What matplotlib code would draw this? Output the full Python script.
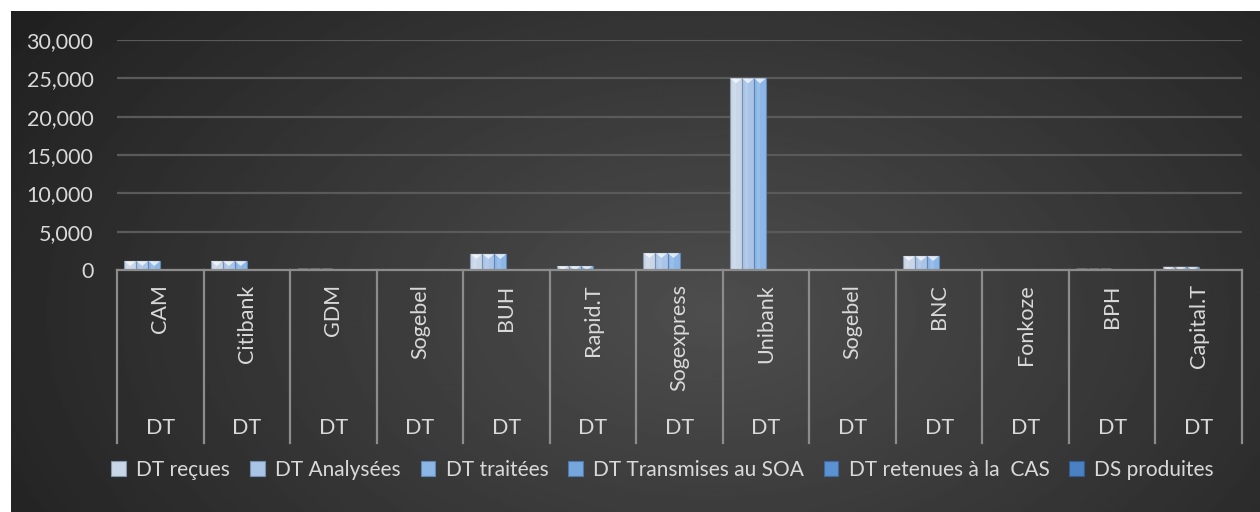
import numpy as np
import matplotlib
matplotlib.use("Agg")
import matplotlib.pyplot as plt
from matplotlib.patches import Patch
from matplotlib.transforms import blended_transform_factory

plt.rcParams['font.family'] = ['Lato', 'DejaVu Sans']

# data
banks = ['CAM', 'Citibank', 'GDM', 'Sogebel', 'BUH', 'Rapid.T', 'Sogexpress',
         'Unibank', 'Sogebel', 'BNC', 'Fonkoze', 'BPH', 'Capital.T']
group = 'DT'
series_names = ['DT reçues', 'DT Analysées', 'DT traitées', 'DT Transmises au SOA',
                'DT retenues à la  CAS', 'DS produites']
dt_recues = [1180, 1180, 170, 30, 2100, 520, 2220, 25000, 20, 1830, 0, 170, 420]
dt_analysees = [1180, 1180, 170, 30, 2100, 520, 2220, 25000, 20, 1830, 0, 170, 420]
dt_traitees = [1180, 1180, 170, 30, 2100, 520, 2220, 25000, 20, 1830, 0, 170, 420]
dt_transmises = [0] * 13
dt_retenues = [0] * 13
ds_produites = [0] * 13
values = [dt_recues, dt_analysees, dt_traitees, dt_transmises, dt_retenues, ds_produites]
colors = ['#c9d6e8', '#a9c4e6', '#8cb6e6', '#76a6de', '#5b92d4', '#4a80c4']
edges = ['#8797ab', '#7690b2', '#5f86b5', '#4f78ab', '#3f6aa0', '#335c90']

W, H = 1260, 512
fig = plt.figure(figsize=(W / 100, H / 100), dpi=100, facecolor='white')

# background radial gradient
bg = fig.add_axes([11 / W, 0, 1 - 11 / W, 1 - 11 / H])
yy, xx = np.mgrid[0:200, 0:500]
r = np.sqrt(((xx - 280) / 340.0) ** 2 + ((yy - 120) / 210.0) ** 2)
grad = np.clip(0.305 - 0.18 * r, 0.12, 0.305)
bg.imshow(grad, cmap='gray', vmin=0, vmax=1, aspect='auto', extent=[0, 1, 0, 1])
bg.set_axis_off()

ax = fig.add_axes([117 / W, (H - 270) / H, 1125 / W, 230 / H])
ax.patch.set_alpha(0)
n = len(banks)
x = np.arange(n)
bw = 0.139
off0 = 0.0835
for i, vals in enumerate(values):
    xs = x - 0.5 + off0 + (i + 0.5) * bw
    ax.bar(xs, vals, width=bw, color=colors[i], edgecolor=edges[i], linewidth=0.8, zorder=3)
    # lighter inner stripe + top highlight for a bevel look
    ax.bar(xs - bw * 0.12, vals, width=bw * 0.3, color='white', alpha=0.12, linewidth=0, zorder=4)
    for xc, v in zip(xs, vals):
        if v > 0:
            th = min(650, v)
            ax.fill([xc - bw / 2, xc + bw / 2, xc], [v, v, v - th], color='white', alpha=0.7,
                    linewidth=0, zorder=5)

ax.set_xlim(-0.5, n - 0.5)
ax.set_ylim(0, 30000)
ax.set_yticks(np.arange(0, 30001, 5000))
ax.yaxis.set_major_formatter(matplotlib.ticker.FuncFormatter(lambda v, p: f'{int(v):,}'))
ax.tick_params(axis='y', length=0, pad=17, labelsize=15.5, labelcolor='#d9d9d9')
ax.set_xticks([])
ax.grid(axis='y', color='#5a5a5a', linewidth=1.6, zorder=0)
for s in ['top', 'right', 'left']:
    ax.spines[s].set_visible(False)
ax.spines['bottom'].set_color('#8c8c8c')
ax.spines['bottom'].set_linewidth(1.6)
ax.spines['bottom'].set_zorder(6)

trans = blended_transform_factory(ax.transData, ax.transAxes)
for b in np.arange(n + 1) - 0.5:
    ax.plot([b, b], [0, -0.752], transform=trans, color='#8c8c8c', linewidth=1.6, clip_on=False)
for i, name in enumerate(banks):
    ax.text(i, -0.062, name, transform=trans, rotation=90, ha='center', va='top',
            fontsize=15.5, color='#d9d9d9')
    ax.text(i, -0.687, group, transform=trans, ha='center', va='center',
            fontsize=15.5, color='#d9d9d9')

handles = [Patch(facecolor=c, edgecolor=e, linewidth=0.8) for c, e in zip(colors, edges)]
fig.legend(handles, series_names, loc='center', bbox_to_anchor=(0.526, 0.082), ncol=6,
           frameon=False, fontsize=15, labelcolor='#d9d9d9', handlelength=0.7,
           handleheight=0.7, handletextpad=0.5, columnspacing=0.95)

fig.savefig('out.png', dpi=100, facecolor='white')
